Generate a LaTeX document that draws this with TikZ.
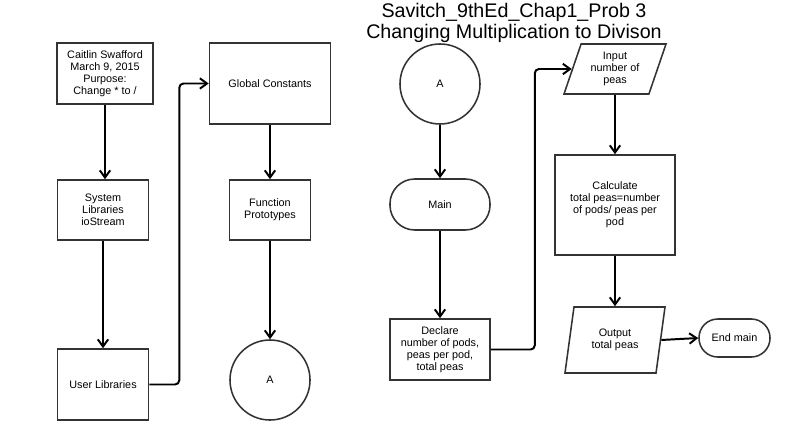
\documentclass[tikz,border=0pt]{standalone}
\usepackage{fontspec}
\setmainfont{Liberation Sans}
\usetikzlibrary{shapes.geometric,arrows.meta}

\begin{document}
\begin{tikzpicture}[x=0.025cm,y=-0.025cm,
  every node/.style={font=\fontsize{7.7}{8.6}\selectfont, align=center},
  box/.style={draw=black!80, line width=1.1pt, inner sep=1pt},
  conn/.style={circle, draw=black!80, line width=1.1pt, minimum size=2cm},
  term/.style={draw=black!80, line width=1.1pt, rounded corners=#1},
  io/.style={trapezium, trapezium left angle=#1, trapezium right angle=180-#1,
             trapezium stretches body, draw=black!80, line width=1.1pt, inner sep=1pt},
  flow/.style={-{Straight Barb[length=1.8mm,width=2.6mm]}, line width=1.4pt, rounded corners=3pt}]
  \useasboundingbox (0,0) rectangle (796,440);

  \node [font=\fontsize{14}{15}\selectfont] at (514,23) (Title)
        {Savitch\_9thEd\_Chap1\_Prob 3\\Changing Multiplication to Divison};

  % left column
  \node [box, minimum width=2.4cm,  minimum height=1.525cm] at (105,73.5)  (Author)  {Caitlin Swafford\\March 9, 2015\\Purpose:\\Change * to /};
  \node [box, minimum width=2.275cm, minimum height=1.5cm]  at (103,210) (SysLib)  {System\\Libraries\\ioStream};
  \node [box, minimum width=2.275cm, minimum height=1.775cm] at (103,384.5) (UserLib) {User Libraries};

  \node [box, minimum width=3.025cm, minimum height=2.025cm] at (270,83.5) (Global)  {Global Constants};
  \node [box, minimum width=2.025cm, minimum height=1.5cm]  at (270,210) (Proto)   {Function\\Prototypes};
  \node [conn] at (270,380) (ConnA) {A};

  \draw [flow] (Author)  -- (Author |- SysLib.north);
  \draw [flow] (SysLib)  -- (UserLib);
  \draw [flow] (UserLib.east) -- ++(30,0) |- (Global.west);
  \draw [flow] (Global)  -- (Proto);
  \draw [flow] (Proto)   -- (ConnA);

  % right column
  \node [conn] at (440,84) (ConnB) {A};
  \node [term=0.62cm, minimum width=2.5cm, minimum height=1.275cm] at (440,204.5) (Main) {Main};
  \node [box, minimum width=2.5cm, minimum height=1.525cm] at (440,349.5) (Declare) {Declare\\number of pods,\\peas per pod,\\total peas};

  \node [io=65, minimum width=2.55cm, minimum height=1.25cm] at (615,69) (Input) {Input\\number of\\peas};
  \node [box, minimum width=3cm, minimum height=2.5cm] at (615,205) (Calc) {Calculate\\total peas=number\\of pods/ peas per\\pod};
  \node [io=70, minimum width=2.5cm, minimum height=1.65cm] at (615,340) (Output) {Output\\total peas};
  \node [term=0.47cm, minimum width=1.775cm, minimum height=0.95cm] at (734.5,338) (EndMain) {End main};

  \draw [flow] (ConnB)   -- (Main);
  \draw [flow] (Main)    -- (Declare);
  \draw [flow] (Declare.east) -- ++(44,0) |- (Input.west);
  \draw [flow] (Input)   -- (Calc);
  \draw [flow] (Calc)    -- (Output);
  \draw [flow] (Output.east) -- (EndMain.west);
\end{tikzpicture}
\end{document}
